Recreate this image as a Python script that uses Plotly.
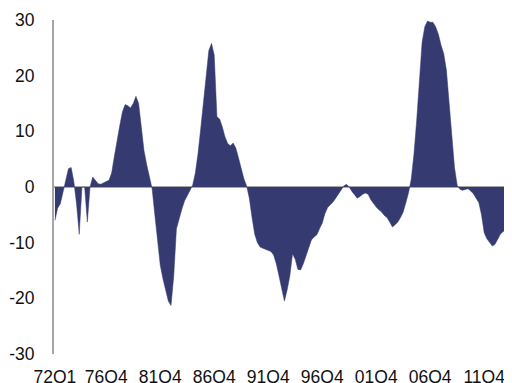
import plotly.graph_objects as go

# Quarterly values, 72Q1 onward (one value per quarter)
values = [
    -6.0, -3.8, -3.0, -1.0, 1.5, 3.3, 3.5, 1.0, -3.0, -8.5,
    0.0, 0.0, -6.3, 0.0, 1.8, 1.2, 0.6, 0.5, 0.8, 1.0,
    1.2, 2.5, 5.5, 8.5, 11.0, 13.5, 14.8, 14.6, 14.2, 15.0,
    16.3, 15.0, 11.0, 6.5, 4.0, 2.0, -0.3, -5.0, -10.0, -14.0,
    -16.5, -18.5, -20.5, -21.3, -16.0, -7.5, -5.5, -4.0, -2.5, -1.5,
    -0.5, 0.3, 2.5, 6.0, 10.5, 15.0, 20.5, 24.5, 25.8, 23.7,
    12.6, 12.2, 10.8, 9.0, 7.8, 7.4, 7.9, 7.0, 5.2, 3.2,
    1.5, 0.2, -2.0, -5.5, -8.5, -10.0, -10.8, -11.0, -11.2, -11.3,
    -11.6, -12.2, -13.8, -16.0, -18.5, -20.5, -18.5, -16.0, -12.0, -13.0,
    -14.8, -14.9, -13.8, -12.3, -10.8, -9.5, -9.0, -8.6, -7.5, -6.5,
    -4.8, -3.7, -3.2, -2.7, -2.0, -1.3, -0.5, 0.2, 0.5, 0.0,
    -0.8, -1.5, -2.0, -1.7, -1.3, -1.1, -1.3, -2.3, -3.0, -3.6,
    -4.1, -4.5, -5.1, -5.5, -6.3, -7.2, -6.8, -6.3, -5.5, -4.5,
    -2.8, -1.0, 1.5, 6.0, 12.0, 19.5, 26.0, 28.8, 29.8, 29.6,
    29.6, 28.8, 27.5, 25.5, 24.0, 21.0, 15.0, 9.0, 3.5, 0.3,
    -0.4, -0.6, -0.4, -0.3, -0.7, -1.2, -2.0, -2.8, -5.0, -8.2,
    -9.3, -9.9, -10.6, -10.3, -9.5, -8.5, -8.0, -7.7, -7.5, -7.4,
    -7.3,
]

quarters = [f"{(72 + k // 4) % 100:02d}Q{k % 4 + 1}" for k in range(len(values))]
tick_labels = ["72Q1", "76Q4", "81Q4", "86Q4", "91Q4", "96Q4", "01Q4", "06Q4", "11Q4"]
y_ticks = [-30, -20, -10, 0, 10, 20, 30]
y_tick_labels = ["-30", "-20", "-10", "0", "10", "20", "30"]

x_index = list(range(len(values)))
tick_positions = [quarters.index(t) for t in tick_labels]

fig = go.Figure()
fig.add_trace(go.Scatter(
    x=x_index, y=values,
    mode="lines",
    line=dict(color="#353B70", width=0.5),
    fill="tozeroy",
    fillcolor="#353B70",
    hoverinfo="skip",
))

font = dict(family="Liberation Sans, Arial, sans-serif", size=17.5, color="#111111")

# the page body adds an 8px offset, so margins are shifted to compensate
fig.update_layout(
    width=512, height=383,
    margin=dict(l=46, r=8, t=12, b=37),
    paper_bgcolor="white",
    plot_bgcolor="white",
    showlegend=False,
    font=font,
    xaxis=dict(
        range=[-0.35, 169.3],
        tickmode="array",
        tickvals=tick_positions,
        ticktext=tick_labels,
        showgrid=False,
        zeroline=False,
        showline=False,
        ticks="outside",
        ticklen=7,
        tickcolor="rgba(0,0,0,0)",
        tickfont=font,
        automargin=False,
    ),
    yaxis=dict(
        range=[-30, 30],
        tickmode="array",
        tickvals=y_ticks,
        ticktext=y_tick_labels,
        showgrid=False,
        zeroline=True,
        zerolinecolor="#A6A6A6",
        zerolinewidth=2,
        showline=True,
        linecolor="#A6A6A6",
        linewidth=2,
        layer="above traces",
        ticks="outside",
        ticklen=14,
        tickcolor="rgba(0,0,0,0)",
        tickfont=font,
        automargin=False,
    ),
)

fig.write_html("out.html")
